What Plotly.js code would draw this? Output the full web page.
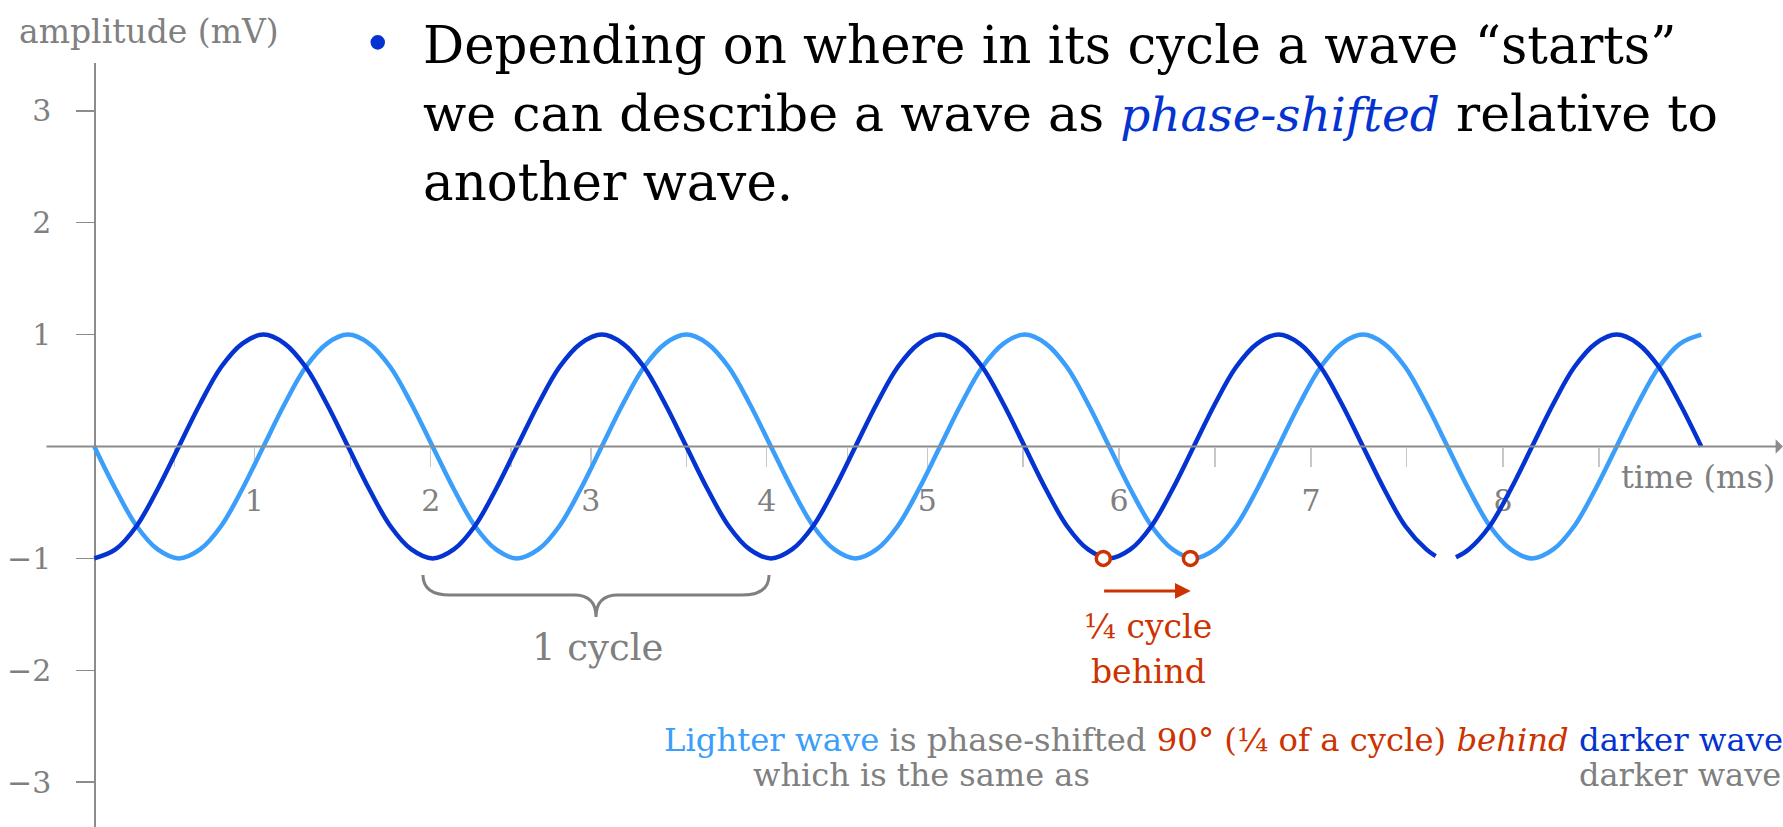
<!DOCTYPE html>
<html>
<head>
<meta charset="utf-8">
<script src="https://cdn.plot.ly/plotly-3.0.1.min.js"></script>
<style>
  html, body { margin: 0; padding: 0; background: #fff; }
  #chart { width: 1783px; height: 827px; }
</style>
</head>
<body>
<div id="chart"></div>
<script>
// ---- data (time in ms, amplitude in mV) ----
const lightTime = [
  0, 0.125, 0.25, 0.375, 0.5, 0.625, 0.75, 0.875, 1, 1.125, 1.25, 1.375, 1.5, 1.625, 1.75, 1.875,
  2, 2.125, 2.25, 2.375, 2.5, 2.625, 2.75, 2.875, 3, 3.125, 3.25, 3.375, 3.5, 3.625, 3.75, 3.875,
  4, 4.125, 4.25, 4.375, 4.5, 4.625, 4.75, 4.875, 5, 5.125, 5.25, 5.375, 5.5, 5.625, 5.75, 5.875,
  6, 6.125, 6.25, 6.375, 6.5, 6.625, 6.75, 6.875, 7, 7.125, 7.25, 7.375, 7.5, 7.625, 7.75, 7.875,
  8, 8.125, 8.25, 8.375, 8.5, 8.625, 8.75, 8.875, 9, 9.125, 9.25, 9.375, 9.5];
const lightAmp = [
  0, -0.38, -0.71, -0.92, -1, -0.92, -0.71, -0.38, 0, 0.38, 0.71, 0.92, 1, 0.92, 0.71, 0.38,
  0, -0.38, -0.71, -0.92, -1, -0.92, -0.71, -0.38, 0, 0.38, 0.71, 0.92, 1, 0.92, 0.71, 0.38,
  0, -0.38, -0.71, -0.92, -1, -0.92, -0.71, -0.38, 0, 0.38, 0.71, 0.92, 1, 0.92, 0.71, 0.38,
  0, -0.38, -0.71, -0.92, -1, -0.92, -0.71, -0.38, 0, 0.38, 0.71, 0.92, 1, 0.92, 0.71, 0.38,
  0, -0.38, -0.71, -0.92, -1, -0.92, -0.71, -0.38, 0, 0.38, 0.71, 0.92, 1];
// darker wave has a small break at its trough near 8 ms
const darkTime = [
  0, 0.125, 0.25, 0.375, 0.5, 0.625, 0.75, 0.875, 1, 1.125, 1.25, 1.375, 1.5, 1.625, 1.75, 1.875,
  2, 2.125, 2.25, 2.375, 2.5, 2.625, 2.75, 2.875, 3, 3.125, 3.25, 3.375, 3.5, 3.625, 3.75, 3.875,
  4, 4.125, 4.25, 4.375, 4.5, 4.625, 4.75, 4.875, 5, 5.125, 5.25, 5.375, 5.5, 5.625, 5.75, 5.875,
  6, 6.125, 6.25, 6.375, 6.5, 6.625, 6.75, 6.875, 7, 7.125, 7.25, 7.375, 7.5, 7.625, 7.75, 7.875,
  7.93, 7.99, 8.05,
  8.125, 8.25, 8.375, 8.5, 8.625, 8.75, 8.875, 9, 9.125, 9.25, 9.375, 9.5];
const darkAmp = [
  -1, -0.92, -0.71, -0.38, 0, 0.38, 0.71, 0.92, 1, 0.92, 0.71, 0.38, 0, -0.38, -0.71, -0.92,
  -1, -0.92, -0.71, -0.38, 0, 0.38, 0.71, 0.92, 1, 0.92, 0.71, 0.38, 0, -0.38, -0.71, -0.92,
  -1, -0.92, -0.71, -0.38, 0, 0.38, 0.71, 0.92, 1, 0.92, 0.71, 0.38, 0, -0.38, -0.71, -0.92,
  -1, -0.92, -0.71, -0.38, 0, 0.38, 0.71, 0.92, 1, 0.92, 0.71, 0.38, 0, -0.38, -0.71, -0.92,
  -0.98, null, -0.99,
  -0.92, -0.71, -0.38, 0, 0.38, 0.71, 0.92, 1, 0.92, 0.71, 0.38, 0];
// marked troughs (dark trough, light trough one quarter cycle later)
const markTime = [5.965, 6.48];
const markAmp = [-1, -1];
// x-axis tick positions as drawn (ms) and their labels
const xTickVals = [0.473, 0.946, 1.516, 1.989, 2.462, 2.935, 3.502, 3.975, 4.452, 4.925,
  5.489, 6.058, 6.624, 7.193, 7.759, 8.328, 8.897];
const xTickText = ['', '1', '', '2', '', '3', '', '4', '', '5', '', '6', '', '7', '', '8', ''];
const yTickVals = [-3, -2, -1, 1, 2, 3];
const yTickText = ['−3', '−2', '−1', '1', '2', '3'];
// brace spanning one cycle (ms)
const cycleStart = 1.943, cycleEnd = 3.989;

// ---- style ----
const W = 1783, H = 827;
const DARK = '#0433D1', LIGHT = '#3A9EFA', RED = '#CC3300', GRAY = '#808080', AXIS = '#8C8C8C';
const SERIF = 'DejaVu Serif, Liberation Serif, serif';
const X = px => px / W;
const Y = py => 1 - py / H;

const xRange = [-0.5575, 9.9834];
const yRange = [-3.4003, 3.4271];

const traces = [
  { x: lightTime, y: lightAmp, mode: 'lines', line: { color: LIGHT, width: 4.5, shape: 'spline', smoothing: 1 },
    hoverinfo: 'skip', connectgaps: false },
  { x: darkTime, y: darkAmp, mode: 'lines', line: { color: DARK, width: 4.5, shape: 'spline', smoothing: 1 },
    hoverinfo: 'skip', connectgaps: false },
  { x: markTime, y: markAmp, mode: 'markers',
    marker: { symbol: 'circle', size: 14, color: '#ffffff', line: { color: RED, width: 3.5 } }, hoverinfo: 'skip' }
];

// brace path in data coordinates
const yTop = -1.148, yH = -1.327, yTip = -1.524, r = 0.16, r2 = 0.13;
const mid = (cycleStart + cycleEnd) / 2;
const bracePath = `M${cycleStart},${yTop} Q${cycleStart},${yH} ${cycleStart + r},${yH} L${mid - r2},${yH} ` +
  `Q${mid},${yH} ${mid},${yTip} Q${mid},${yH} ${mid + r2},${yH} L${cycleEnd - r},${yH} Q${cycleEnd},${yH} ${cycleEnd},${yTop}`;

function txt(text, xpx, ypx, size, color, xanchor) {
  return { text: text, xref: 'paper', yref: 'paper', x: X(xpx), y: Y(ypx), xanchor: xanchor || 'left',
    yanchor: 'middle', showarrow: false, font: { family: SERIF, size: size, color: color } };
}

const annotations = [
  // x axis line with arrow
  { x: 9.983, y: 0, ax: -0.2915, ay: 0, xref: 'x', yref: 'y', axref: 'x', ayref: 'y', text: '',
    showarrow: true, arrowhead: 1, arrowsize: 1.22, arrowwidth: 2, arrowcolor: AXIS },
  // quarter-cycle arrow
  { x: 6.482, y: -1.291, ax: 5.961, ay: -1.291, xref: 'x', yref: 'y', axref: 'x', ayref: 'y', text: '',
    showarrow: true, arrowhead: 2, arrowsize: 1.05, arrowwidth: 3, arrowcolor: RED },
  txt('amplitude (mV)', 17, 31.3, 33, GRAY),
  txt('time (ms)', 1619, 477, 32, GRAY),
  txt('•', 378, 44, 50, DARK, 'center'),
  txt('Depending on where in its cycle a wave “starts”', 421, 45, 51.4, '#000000'),
  txt('we can describe a wave as <i><span style="color:' + DARK + ';font-size:47px">phase-shifted</span></i> relative to', 421, 113, 50.5, '#000000'),
  txt('another wave.', 421, 182, 51.4, '#000000'),
  txt('1 cycle', 597, 647, 37, GRAY, 'center'),
  txt('¼ cycle', 1148, 626.6, 33, RED, 'center'),
  txt('behind', 1148, 671.6, 33, RED, 'center'),
  txt('<span style="color:' + LIGHT + '">Lighter wave</span> is phase-shifted <span style="color:' + RED +
      '">90° (¼ of a cycle) <i>behind</i></span> <span style="color:' + DARK + '">darker wave,</span>', 662, 740.3, 32.3, GRAY),
  txt('which is the same as', 751, 775.3, 32, GRAY),
  txt('darker wave', 1577, 775.3, 32, GRAY)
];

const layout = {
  width: W, height: H,
  margin: { l: 0, r: 0, t: 0, b: 0, pad: 0 },
  paper_bgcolor: '#ffffff', plot_bgcolor: 'rgba(0,0,0,0)',
  showlegend: false,
  xaxis: {
    range: xRange, domain: [0, 1], anchor: 'free', position: Y(446.5),
    showgrid: false, zeroline: false, showline: false,
    tickmode: 'array', tickvals: xTickVals, ticktext: xTickText,
    ticks: 'outside', ticklen: 19, tickwidth: 1.5, tickcolor: '#C8C8C8',
    tickfont: { family: SERIF, size: 30, color: GRAY }, ticklabelstandoff: 8,
    layer: 'below traces', fixedrange: true
  },
  yaxis: {
    range: yRange, domain: [0, Y(63)], anchor: 'free', position: X(94.3),
    showgrid: false, zeroline: false, showline: true, linecolor: AXIS, linewidth: 1.5,
    tickmode: 'array', tickvals: yTickVals, ticktext: yTickText,
    ticks: 'outside', ticklen: 18, tickwidth: 1.5, tickcolor: AXIS,
    tickfont: { family: SERIF, size: 30, color: GRAY }, ticklabelstandoff: 19,
    layer: 'below traces', fixedrange: true
  },
  shapes: [
    { type: 'path', xref: 'x', yref: 'y', path: bracePath, line: { color: GRAY, width: 3 }, fillcolor: 'rgba(0,0,0,0)' }
  ],
  annotations: annotations
};

Plotly.newPlot('chart', traces, layout, { staticPlot: true, displayModeBar: false });
</script>
</body>
</html>
